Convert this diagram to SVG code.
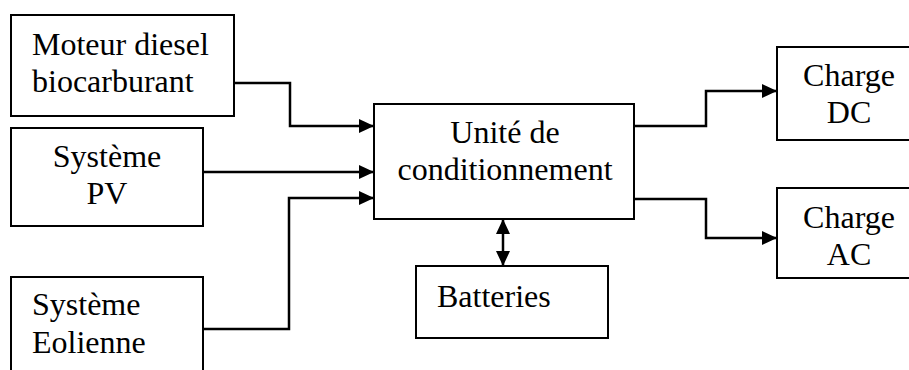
<svg xmlns="http://www.w3.org/2000/svg" width="909" height="370" viewBox="0 0 909 370">
<style>
.box{fill:#fff;stroke:#000;stroke-width:2}
text{font-family:'Liberation Serif','Times New Roman',Tinos,'DejaVu Serif',serif;font-size:32px;fill:#000}
.c{fill:none;stroke:#000;stroke-width:2.5}
</style>
<defs>
<marker id="ah" markerWidth="15" markerHeight="14" refX="15" refY="7" orient="auto-start-reverse" markerUnits="userSpaceOnUse">
<path d="M0,0 L15,7 L0,14 Z" fill="#000"/>
</marker>
</defs>
<rect width="909" height="370" fill="#fff"/>
<g id="moteur"><rect class="box" x="11" y="15" width="223" height="101"/>
<text x="32" y="55">Moteur diesel</text><text x="32" y="92">biocarburant</text></g>
<g id="pv"><rect class="box" x="11" y="128" width="192" height="98"/>
<text x="107" y="167" text-anchor="middle">Système</text><text x="107" y="204" text-anchor="middle">PV</text></g>
<g id="eolienne"><rect class="box" x="11" y="277" width="192" height="100"/>
<text x="32" y="315">Système</text><text x="32" y="353">Eolienne</text></g>
<g id="unite"><rect class="box" x="374" y="104" width="260" height="115"/>
<text x="505" y="143" text-anchor="middle">Unité de</text><text x="505" y="180" text-anchor="middle">conditionnement</text></g>
<g id="batteries"><rect class="box" x="416" y="266" width="192" height="72"/>
<text x="437" y="307">Batteries</text></g>
<g id="dc"><rect class="box" x="777" y="47" width="140" height="93"/>
<text x="849" y="86" text-anchor="middle">Charge</text><text x="849" y="123" text-anchor="middle">DC</text></g>
<g id="ac"><rect class="box" x="777" y="188" width="140" height="90"/>
<text x="849" y="228" text-anchor="middle">Charge</text><text x="849" y="265" text-anchor="middle">AC</text></g>
<g id="connectors">
<path class="c" d="M234,83 H290 V126 H374" marker-end="url(#ah)"/>
<path class="c" d="M203,172 H374" marker-end="url(#ah)"/>
<path class="c" d="M203,329 H289 V198 H374" marker-end="url(#ah)"/>
<path class="c" d="M634,126 H706 V91 H777" marker-end="url(#ah)"/>
<path class="c" d="M634,199 H706 V238 H777" marker-end="url(#ah)"/>
<path class="c" d="M503,219 V266" marker-start="url(#ah)" marker-end="url(#ah)"/>
</g>
</svg>
